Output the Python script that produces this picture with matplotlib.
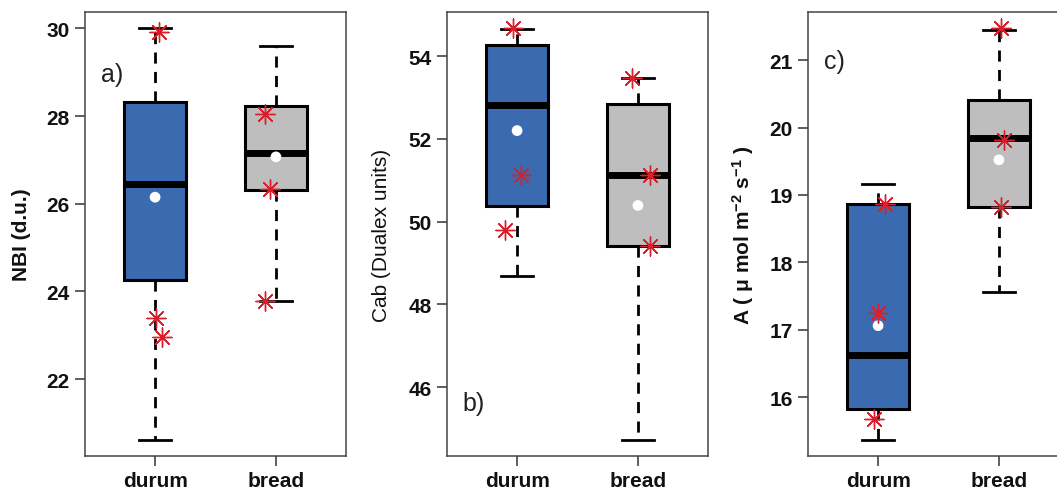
import matplotlib
matplotlib.use("Agg")
import matplotlib.pyplot as plt
import numpy as np

plt.rcParams['font.family'] = ['Liberation Sans', 'DejaVu Sans']
plt.rcParams['mathtext.fontset'] = 'custom'
plt.rcParams['mathtext.rm'] = 'Liberation Sans:bold'
plt.rcParams['mathtext.bf'] = 'Liberation Sans:bold'
plt.rcParams['mathtext.it'] = 'Liberation Sans:bold'

groups = ["durum", "bread"]
box_colors = ["#3A6BB0", "#BEBEBE"]

# Box statistics per panel: (whisker low, Q1, median, Q3, whisker high)
nbi_stats = [(20.62, 24.27, 26.46, 28.33, 30.00), (23.78, 26.31, 27.16, 28.24, 29.60)]
nbi_means = [26.15, 27.07]
nbi_obs_x = [[1.03, 1.01, 1.06], [1.91, 1.95, 1.91]]
nbi_obs_y = [[29.92, 23.40, 22.97], [28.05, 26.33, 23.78]]
nbi_ticks = [22, 24, 26, 28, 30]

cab_stats = [(48.68, 50.38, 52.81, 54.27, 54.65), (44.73, 49.41, 51.12, 52.85, 53.46)]
cab_means = [52.20, 50.39]
cab_obs_x = [[0.97, 1.035, 0.90], [1.95, 2.10, 2.10]]
cab_obs_y = [[54.67, 51.12, 49.80], [53.46, 51.12, 49.41]]
cab_ticks = [46, 48, 50, 52, 54]

a_stats = [(15.37, 15.83, 16.62, 18.86, 19.16), (17.56, 18.82, 19.85, 20.41, 21.44)]
a_means = [17.06, 19.52]
a_obs_x = [[1.055, 1.00, 0.97], [2.02, 2.045, 2.02]]
a_obs_y = [[18.87, 17.25, 15.68], [21.47, 19.81, 18.82]]
a_ticks = [16, 17, 18, 19, 20, 21]

panels = [
    dict(stats=nbi_stats, means=nbi_means, ox=nbi_obs_x, oy=nbi_obs_y, ticks=nbi_ticks,
         ylabel="NBI (d.u.)", ybold=True, tag="a)", tagpos=(0.06, 0.86), left=85, lx=-0.205),
    dict(stats=cab_stats, means=cab_means, ox=cab_obs_x, oy=cab_obs_y, ticks=cab_ticks,
         ylabel="Cab (Dualex units)", ybold=False, tag="b)", tagpos=(0.06, 0.12), left=447, lx=-0.215),
    dict(stats=a_stats, means=a_means, ox=a_obs_x, oy=a_obs_y, ticks=a_ticks,
         ylabel=r"A ( $\mu$ mol m$^{-2}$ s$^{-1}$ )", ybold=True, tag="c)", tagpos=(0.06, 0.89), left=808, lx=-0.2),
]

W, H = 1057, 489
fig = plt.figure(figsize=(W / 100, H / 100), dpi=100)
asterisk = (8, 2, 0)

for p in panels:
    ax = fig.add_axes([p["left"] / W, (H - 457) / H, 261 / W, 444 / H])
    bxp_stats = []
    for i, (wl, q1, med, q3, wh) in enumerate(p["stats"]):
        bxp_stats.append(dict(med=med, q1=q1, q3=q3, whislo=wl, whishi=wh,
                              mean=p["means"][i], fliers=[], label=groups[i]))
    bp = ax.bxp(bxp_stats, positions=[1, 2], widths=0.51, patch_artist=True,
                showmeans=False, showfliers=False,
                boxprops=dict(linewidth=2.2, edgecolor="black"),
                medianprops=dict(color="black", linewidth=5, solid_capstyle="butt"),
                whiskerprops=dict(color="black", linewidth=2, linestyle=(0, (4, 3))),
                capprops=dict(color="black", linewidth=2),
                capwidths=0.26)
    for patch, c in zip(bp["boxes"], box_colors):
        patch.set_facecolor(c)
    for med in bp["medians"]:
        med.set_zorder(4)

    # group means
    ax.scatter([1, 2], p["means"], s=60, color="white", zorder=5, edgecolors="none")
    # individual observations
    for xs, ys in zip(p["ox"], p["oy"]):
        ax.scatter(xs, ys, marker=asterisk, s=190, color="#D8202C", linewidths=1.0, zorder=6)

    allv = [v for s in p["stats"] for v in s] + [v for ys in p["oy"] for v in ys]
    lo, hi = min(allv), max(allv)
    pad = 0.04 * (hi - lo)
    ax.set_ylim(lo - pad, hi + pad)
    ax.set_xlim(0.42, 2.58)

    ax.set_yticks(p["ticks"])
    ax.set_yticklabels([str(t) for t in p["ticks"]], fontsize=15, fontweight="bold")
    ax.set_xticks([1, 2])
    ax.set_xticklabels(groups, fontsize=15, fontweight="bold")
    ax.tick_params(direction="out", length=7, width=1.1, colors="#333333", labelcolor="#111111", pad=4)
    ax.tick_params(axis="x", pad=3.5)
    for sp in ax.spines.values():
        sp.set_linewidth(1.1)
        sp.set_color("#444444")
    ax.set_ylabel(p["ylabel"], fontsize=15, fontweight="bold" if p["ybold"] else "normal",
                  color="#111111")
    ax.yaxis.set_label_coords(p["lx"], 0.5)
    ax.text(p["tagpos"][0], p["tagpos"][1], p["tag"], transform=ax.transAxes,
            fontsize=18, color="#222222", ha="left", va="center")

fig.savefig("out.png", dpi=100)
